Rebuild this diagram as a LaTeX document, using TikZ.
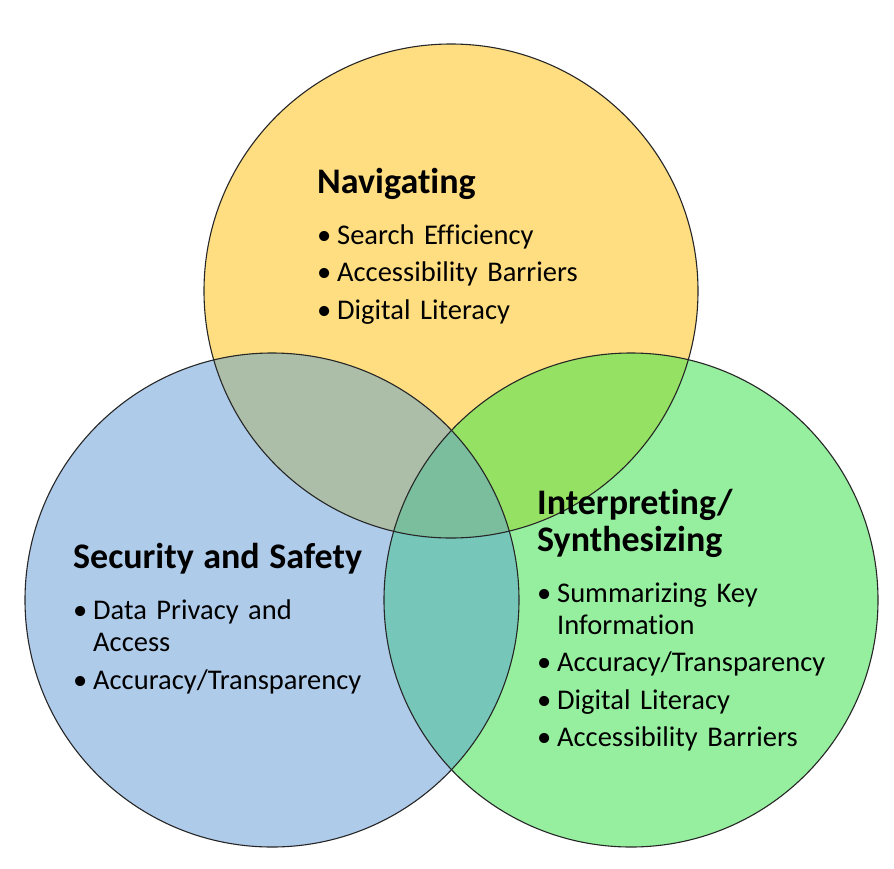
\documentclass[tikz,border=0pt]{standalone}
\usepackage{fontspec}
\setmainfont[Ligatures=NoCommon]{Carlito}
\usetikzlibrary{positioning}
\definecolor{Sun}{HTML}{FFDE82}
\definecolor{Sky}{HTML}{AFCBEA}
\definecolor{Leaf}{HTML}{96EF9F}
\definecolor{SunSky}{HTML}{ACBDA8}
\definecolor{SunLeaf}{HTML}{95E163}
\definecolor{SkyLeaf}{HTML}{77C6BA}
\definecolor{Core}{HTML}{7BBE9D}
\definecolor{Rim}{HTML}{262626}
\setlength{\parindent}{0pt}
\tikzset{
  disc/.style={circle, minimum size=494pt, inner sep=0pt},
  rim/.style={draw=Rim, line width=1.1pt},
  block/.style={anchor=north west, inner sep=0pt, text width=360pt,
    font=\fontsize{28.5}{32}\selectfont}
}
\newcommand{\blockhead}[1]{{\fontsize{36}{37}\selectfont\bfseries #1\par}\vspace{19pt}}
\newcommand{\blockitem}[1]{\hangindent=20pt\hangafter=1\noindent\makebox[20pt][l]{\textbullet}#1\par\vspace{5.5pt}}

\begin{document}
\begin{tikzpicture}[x=1pt, y=-1pt]
    \useasboundingbox (0,0) rectangle (894,868);
    % the three sets
    \node[disc, fill=Sun] (nav) at (451,291) {};
    \node[disc, fill=Sky] (sec) at (272,600) {};
    \node[disc, fill=Leaf] (intp) at (631,600) {};
    % overlaps
    \begin{scope}
      \clip (nav.center) circle (247pt);
      \fill[SunSky] (sec.center) circle (247pt);
      \fill[SunLeaf] (intp.center) circle (247pt);
    \end{scope}
    \begin{scope}
      \clip (sec.center) circle (247pt);
      \fill[SkyLeaf] (intp.center) circle (247pt);
      \clip (intp.center) circle (247pt);
      \fill[Core] (nav.center) circle (247pt);
    \end{scope}
    \draw[rim] (nav.center) circle (247pt);
    \draw[rim] (sec.center) circle (247pt);
    \draw[rim] (intp.center) circle (247pt);
    % labels
    \node[block] (navtext) at (317,168) {%
      \blockhead{Navigating}
      \blockitem{Search Efficiency}
      \blockitem{Accessibility Barriers}
      \blockitem{Digital Literacy}};
    \node[block] (sectext) at (73,543.5) {%
      \blockhead{Security and Safety}
      \blockitem{Data Privacy and\newline Access}
      \blockitem{Accuracy/Transparency}};
    \node[block] (intptext) at (537,489) {%
      \blockhead{Interpreting/\newline Synthesizing}
      \blockitem{Summarizing Key\newline Information}
      \blockitem{Accuracy/Transparency}
      \blockitem{Digital Literacy}
      \blockitem{Accessibility Barriers}};
\end{tikzpicture}
\end{document}
